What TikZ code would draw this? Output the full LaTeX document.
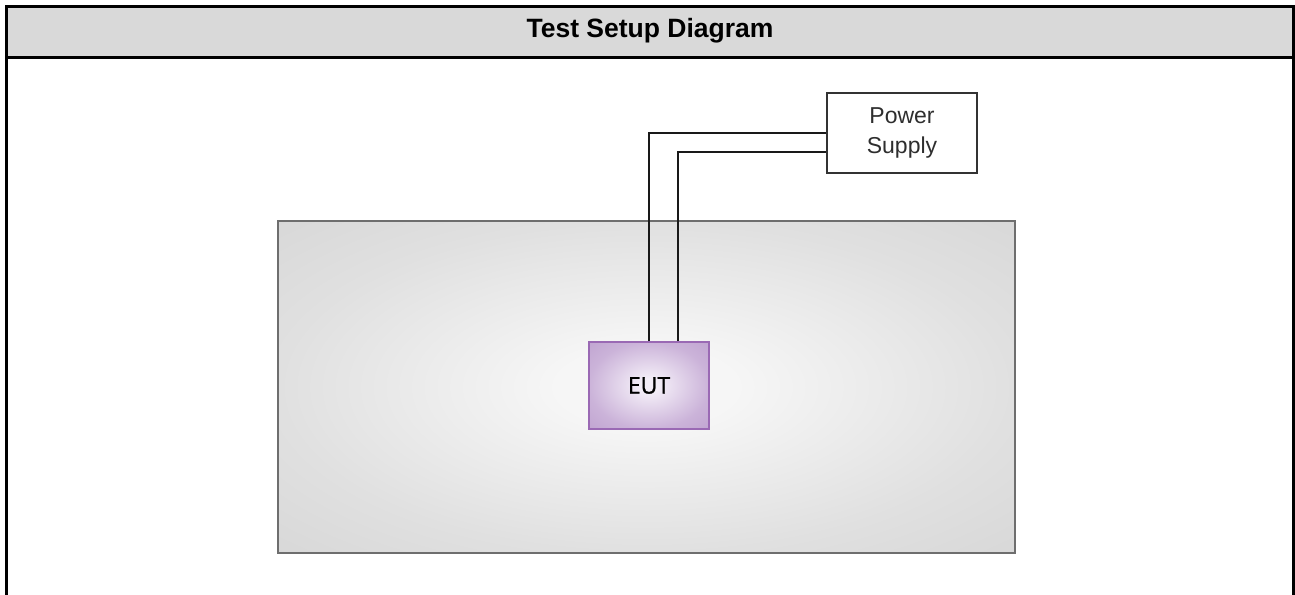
\documentclass[tikz,border=0pt]{standalone}
\usepackage{fontspec}
\setmainfont{Liberation Sans}
\newfontfamily\labelfont[FakeBold=0.9]{Open Sans}
\usetikzlibrary{positioning}

\definecolor{headgray}{HTML}{D9D9D9}
\definecolor{benchin}{HTML}{F6F6F6}
\definecolor{benchmid}{HTML}{E0E0E0}
\definecolor{benchout}{HTML}{CDCDCD}
\definecolor{benchedge}{HTML}{6E6E6E}
\definecolor{eutin}{HTML}{F3EDF7}
\definecolor{eutmid}{HTML}{CBB3D9}
\definecolor{eutout}{HTML}{B392C7}
\definecolor{eutedge}{HTML}{9A69B4}
\definecolor{psutext}{HTML}{2E2E2E}

% soft glow for the bench top and the EUT box
\pgfdeclareradialshading{benchglow}{\pgfpoint{0bp}{0bp}}{%
  color(0bp)=(benchin); color(6bp)=(benchin); color(25bp)=(benchmid); color(50bp)=(benchout)}
\pgfdeclareradialshading{eutglow}{\pgfpoint{0bp}{0bp}}{%
  color(0bp)=(eutin); color(4bp)=(eutin); color(25bp)=(eutmid); color(50bp)=(eutout)}

\tikzset{
  frameline/.style={line width=3pt, draw=black, line cap=rect},
  benchbox/.style={rectangle, inner sep=0pt, minimum width=737pt, minimum height=332pt,
    shading=benchglow, draw=benchedge, line width=2.4pt},
  eutbox/.style={rectangle, inner sep=0pt, minimum width=120pt, minimum height=87pt,
    shading=eutglow, draw=eutedge, line width=1.6pt,
    font=\labelfont\fontsize{23}{26}\selectfont, text=black},
  psubox/.style={rectangle, inner sep=0pt, minimum width=150pt, minimum height=80pt,
    fill=white, draw=black!80, line width=1.5pt, align=center,
    font=\fontsize{23}{30}\selectfont, text=psutext},
  cable/.style={draw=black!90, line width=1.6pt},
  titletext/.style={font=\fontsize{26.5}{30}\selectfont\bfseries, text=black}
}

\begin{document}
\begin{tikzpicture}[x=1pt, y=-1pt]
  \useasboundingbox (0,0) rectangle (1295,594);

  % header band and outer frame
  \fill[headgray] (6.5,6.5) rectangle (1293.5,57.5);
  \draw[frameline] (6.5,594) -- (6.5,6.5) -- (1293.5,6.5) -- (1293.5,594);
  \draw[frameline] (6.5,57.5) -- (1293.5,57.5);
  \node[titletext] (title) at (650,31) {Test Setup Diagram};

  % bench, equipment under test and power supply
  \node[benchbox] (bench) at (646.5,387) {};
  \node[eutbox] (eut) at (649,385.5) {EUT};
  \node[psubox] (psu) at (902,133) {Power\\Supply};

  % supply leads
  \draw[cable] (eut.north) |- (psu.west);
  \draw[cable] ([xshift=29pt]eut.north) |- ([yshift=-19pt]psu.west);
\end{tikzpicture}
\end{document}
